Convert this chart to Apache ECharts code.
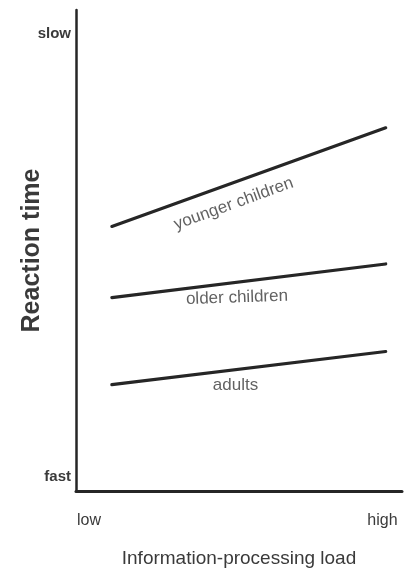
<!DOCTYPE html>
<html>
<head>
<meta charset="utf-8">
<script src="https://cdn.jsdelivr.net/npm/echarts@6/dist/echarts.min.js"></script>
<style>html,body{margin:0;padding:0;background:#fff}#c{width:405px;height:573px}</style>
</head>
<body>
<div id="c"></div>
<script>
// Data
const groups = ['younger children', 'older children', 'adults'];
const loadX = [11, 95];                 // low-load and high-load positions on the x scale
const younger = [55, 75.5];
const older = [40.2, 47.2];
const adults = [22.1, 29];
const xTickLabels = [{ value: 4, text: 'low' }, { value: 94, text: 'high' }];
const yTickLabels = [{ value: 3, text: 'fast' }, { value: 95, text: 'slow' }];
const labelAtX = 48;                    // where along the line each group name sits

const font = '"Liberation Sans Narrow", "Liberation Sans", Arial, sans-serif';
const ink = '#262626';
const txt = '#3a3a3a';

function interp(vals, x) {
  const t = (x - loadX[0]) / (loadX[1] - loadX[0]);
  return vals[0] + t * (vals[1] - vals[0]);
}
const seriesVals = [younger, older, adults];
const labelRot = [20, 2, 0];
const labelOff = [[-6, 20], [4, 15], [3, 15]];

const series = [];
seriesVals.forEach((v, i) => {
  series.push({
    type: 'line', name: groups[i],
    data: loadX.map((x, k) => [x, v[k]]),
    symbol: 'none',
    lineStyle: { color: ink, width: 3.2, cap: 'round' },
    silent: true
  });
  series.push({
    type: 'scatter',
    data: [[labelAtX, interp(v, labelAtX)]],
    symbolSize: 0,
    silent: true,
    label: {
      show: true, formatter: groups[i], position: 'inside',
      rotate: labelRot[i], offset: labelOff[i],
      color: txt, fontFamily: font, fontSize: 17
    }
  });
});

const xMap = {}; xTickLabels.forEach(t => xMap[t.value] = t.text);
const yMap = {}; yTickLabels.forEach(t => yMap[t.value] = t.text);

const chart = echarts.init(document.getElementById('c'), null, { renderer: 'canvas' });
chart.setOption({
  animation: false,
  backgroundColor: '#fff',
  grid: { left: 76, right: 3, top: 10, bottom: 82 },
  xAxis: {
    type: 'value', min: 0, max: 100, interval: 1,
    name: 'Information-processing load', nameLocation: 'middle', nameGap: 58,
    nameMoveOverlap: false,
    nameTextStyle: { color: txt, fontFamily: font, fontSize: 19 },
    axisLine: { show: true, lineStyle: { color: ink, width: 3 } },
    axisTick: { show: false }, splitLine: { show: false },
    axisLabel: {
      margin: 22, color: txt, fontFamily: font, fontSize: 16,
      formatter: v => xMap[v] || ''
    }
  },
  yAxis: {
    type: 'value', min: 0, max: 100, interval: 1,
    name: 'Reaction time', nameLocation: 'middle', nameGap: 31,
    nameMoveOverlap: false,
    nameTextStyle: { color: txt, fontFamily: '"Liberation Sans", Arial, sans-serif', fontSize: 25, fontWeight: 'bold' },
    axisLine: { show: true, lineStyle: { color: ink, width: 2.5 } },
    axisTick: { show: false }, splitLine: { show: false },
    axisLabel: {
      margin: 5, color: txt, fontFamily: font, fontSize: 15, fontWeight: 'bold',
      formatter: v => yMap[v] || ''
    }
  },
  series: series
});
</script>
</body>
</html>
